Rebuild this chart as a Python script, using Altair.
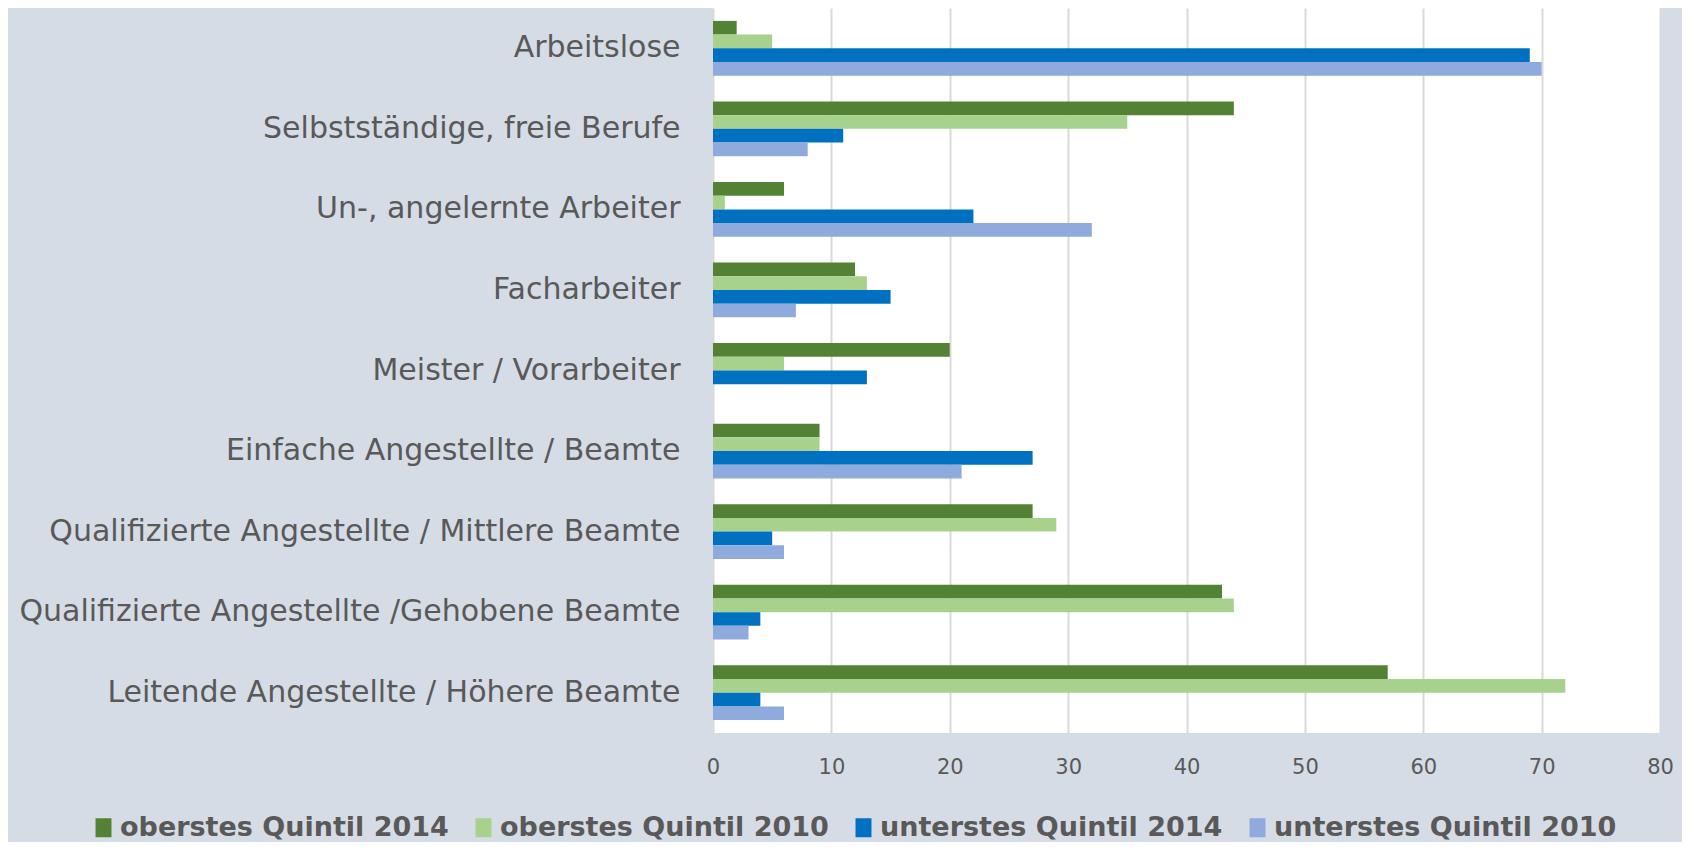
import altair as alt
import pandas as pd

categories = [
    "Arbeitslose ",
    "Selbstständige, freie Berufe",
    "Un-, angelernte Arbeiter",
    "Facharbeiter",
    "Meister / Vorarbeiter",
    "Einfache Angestellte / Beamte",
    "Qualifizierte Angestellte / Mittlere Beamte",
    "Qualifizierte Angestellte /Gehobene Beamte",
    "Leitende Angestellte / Höhere Beamte",
]
series = [
    "oberstes Quintil 2014",
    "oberstes Quintil 2010",
    "unterstes Quintil 2014",
    "unterstes Quintil 2010",
]
oberstes_2014 = [2, 44, 6, 12, 20, 9, 27, 43, 57]
oberstes_2010 = [5, 35, 1, 13, 6, 9, 29, 44, 72]
unterstes_2014 = [69, 11, 22, 15, 13, 27, 5, 4, 4]
unterstes_2010 = [70, 8, 32, 7, 0, 21, 6, 3, 6]
x_ticks = [0, 10, 20, 30, 40, 50, 60, 70, 80]
colors = ["#548235", "#A9D18E", "#0070C0", "#8FAADC"]

rows = []
for s, vals in zip(series, [oberstes_2014, oberstes_2010, unterstes_2014, unterstes_2010]):
    for c, v in zip(categories, vals):
        rows.append({"category": c, "series": s, "value": v})
df = pd.DataFrame(rows)

FONT = "DejaVu Sans"
TXT = "#595959"

chart = alt.Chart(df).mark_bar().encode(
    x=alt.X(
        "value:Q",
        scale=alt.Scale(domain=[0, 80], nice=False),
        axis=alt.Axis(
            values=x_ticks, title=None, grid=True, gridColor="#D9D9D9", gridWidth=2,
            domain=False, ticks=False, labelFontSize=21, labelColor=TXT,
            labelPadding=23, labelFont=FONT, labelFlush=False,
        ),
    ),
    y=alt.Y(
        "category:N", sort=categories,
        scale=alt.Scale(paddingInner=0.32, paddingOuter=0.16),
        axis=alt.Axis(
            title=None, domain=False, ticks=False, labelFontSize=30, labelColor=TXT,
            labelPadding=33, labelLimit=0, labelFont=FONT,
        ),
    ),
    yOffset=alt.YOffset("series:N", sort=series),
    color=alt.Color(
        "series:N", sort=series,
        scale=alt.Scale(domain=series, range=colors),
        legend=alt.Legend(
            title=None, orient="none", legendX=-623, legendY=806, direction="horizontal",
            symbolType="M-0.84,-1H0.84V1H-0.84Z", symbolSize=361, symbolStrokeWidth=0,
            labelFontSize=27, labelFontWeight="bold", labelColor=TXT, labelFont=FONT,
            labelOffset=3, columnPadding=21, labelLimit=0,
        ),
    ),
).properties(
    width=947, height=725,
    background="#D6DCE5",
    padding={"left": 705, "top": 0, "right": 22, "bottom": 109},
    autosize=alt.AutoSizeParams(type="none"),
).configure_view(fill="white", stroke=None)

chart.save("out.html", embed_options={"renderer": "svg", "actions": False})
